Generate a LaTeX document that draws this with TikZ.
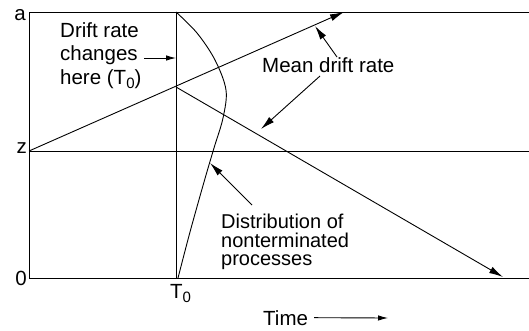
\documentclass[tikz,border=0pt]{standalone}
\usepackage{fontspec}
\setmainfont{Liberation Sans}
\usetikzlibrary{arrows.meta}
\tikzset{
  ln/.style={line width=1pt},
  arr/.style={line width=0.9pt,-{Latex[length=14pt,width=7pt]}},
  sarr/.style={line width=0.9pt,-{Latex[length=10pt,width=5.5pt]}},
  lbl/.style={inner sep=0pt,font=\fontsize{20.5}{23.5}\selectfont},
}
\begin{document}
\begin{tikzpicture}[x=1pt,y=-1pt]
\useasboundingbox (0,0) rectangle (529,330);
% frame coordinates
\coordinate (atl) at (29,12);
\coordinate (atr) at (529,12);
\coordinate (ztl) at (29,151);
\coordinate (ztr) at (529,151);
\coordinate (obl) at (29,278);
\coordinate (obr) at (529,278);
\coordinate (T0top) at (176,12);
\coordinate (T0bot) at (176,278);
\coordinate (kink) at (176,87);
\coordinate (uptip) at (344,12);
\coordinate (dntip) at (503,277);
% boundaries
\draw[ln] (atl) -- (atr);
\draw[ln] (ztl) -- (ztr);
\draw[ln] (obl) -- (obr);
\draw[ln] (atl) -- (obl);
\draw[ln] (T0top) -- (T0bot);
% drift lines
\draw[arr] (ztl) -- (uptip);
\draw[arr] (kink) -- (dntip);
% distribution curve
\draw[line width=0.9pt] plot[smooth,tension=0.55] coordinates
  {(176,12) (197,33) (215,60) (226,90) (223,118) (214,148) (204,182) (190,232) (178,278)};
% axis labels
\node[lbl,anchor=base east] (la) at (26,20) {a};
\node[lbl,anchor=base east] (lz) at (27,153) {z};
\node[lbl,anchor=base east] (l0) at (27,285) {0};
\node[lbl,anchor=base west] (lT) at (170,298) {T\raisebox{-4pt}{\fontsize{15}{15}\selectfont 0}};
\node[lbl,anchor=base west] (time) at (263,325) {Time};
\coordinate (timeend) at (388,318);
\draw[sarr] ([xshift=6pt]time.east) -- (timeend);
% drift rate changes
\node[lbl,anchor=north west,align=left] (chg) at (60,22) {Drift rate\\changes\\here (T\raisebox{-4pt}{\fontsize{15}{15}\selectfont 0})};
\coordinate (chgs) at (144,58);
\coordinate (chge) at (176,58);
\draw[sarr] (chgs) -- (chge);
% mean drift rate
\node[lbl,anchor=base west] (mean) at (262,72) {Mean drift rate};
\coordinate (m1s) at (337,57);
\coordinate (m1e) at (315,26);
\coordinate (m2s) at (320,76);
\coordinate (m2e) at (261,129);
\draw[arr] (m1s) -- (m1e);
\draw[arr] (m2s) -- (m2e);
% distribution
\node[lbl,anchor=north west,align=left,font=\fontsize{20}{18.5}\selectfont] (dist) at (221,214) {Distribution of\\nonterminated\\processes};
\coordinate (ds) at (252,205);
\coordinate (de) at (210,163);
\draw[arr] (ds) -- (de);
\end{tikzpicture}
\end{document}
